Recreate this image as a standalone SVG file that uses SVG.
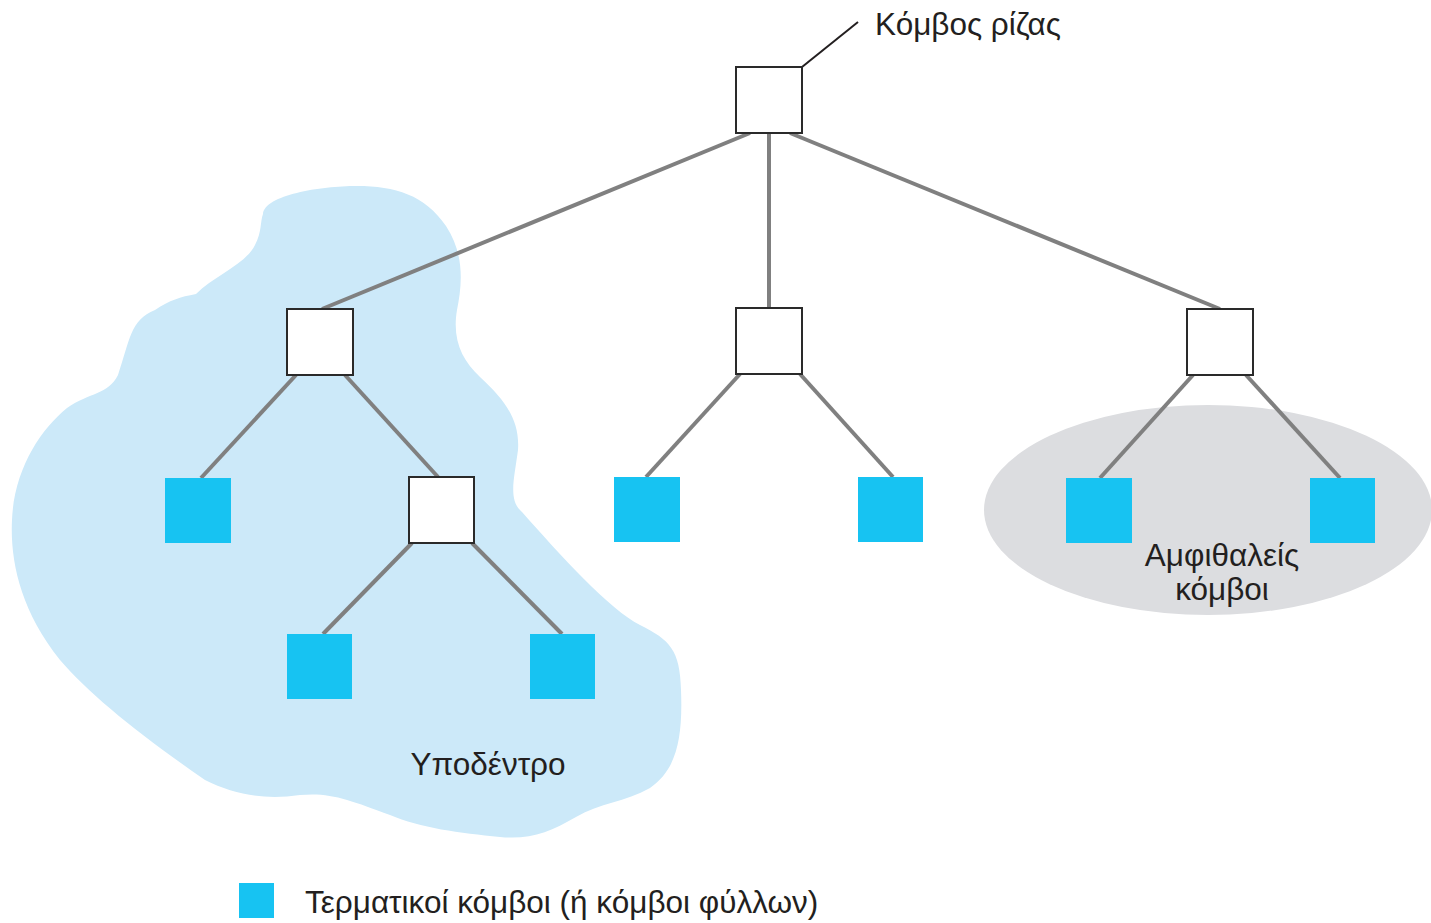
<svg xmlns="http://www.w3.org/2000/svg" width="1431" height="923" viewBox="0 0 1431 923">
<style>
.int{fill:#ffffff;stroke:#2a2a2a;stroke-width:2}
.leaf{fill:#17c3f2}
.edge{stroke:#808080;stroke-width:4;fill:none}
.lbl{font-family:"Liberation Sans",Arial,sans-serif;font-size:31.5px;fill:#231f20}
</style>
<rect width="1431" height="923" fill="#ffffff"/>
<g id="subtree-region">
<path fill="#cce9f9" d="M 263,214 C 265,195 320,186 357,186 C 395,186 425,195 446,226 C 465,255 462,285 457,310 C 452,340 462,360 480,377 C 505,400 520,420 518,450 C 514,480 508,500 522,512 C 560,555 610,610 640,625 C 670,640 680,650 681,690 C 683,740 676,770 650,788 C 625,802 600,803 576,817 C 550,832 530,840 500,837 C 460,833 420,828 390,815 C 350,800 330,792 300,795 C 265,800 235,795 205,780 C 140,735 90,695 60,660 C 20,610 10,560 12,520 C 14,470 40,430 67,408 C 90,392 108,395 118,375 C 130,340 130,320 155,310 C 170,300 180,297 196,294 C 215,275 245,265 255,245 C 262,232 260,222 263,214 Z"/>
</g>
<g id="sibling-region">
<ellipse cx="1208" cy="510" rx="224" ry="105" fill="#dcdde0"/>
</g>
<g id="connectors">
<line class="edge" x1="750" y1="133" x2="322" y2="309"/>
<line class="edge" x1="769" y1="133" x2="769" y2="308"/>
<line class="edge" x1="790" y1="133" x2="1220" y2="309"/>
<line class="edge" x1="296" y1="375" x2="201" y2="478"/>
<line class="edge" x1="345" y1="375" x2="438" y2="477"/>
<line class="edge" x1="412" y1="543" x2="323" y2="634"/>
<line class="edge" x1="472" y1="543" x2="562" y2="634"/>
<line class="edge" x1="740" y1="374" x2="646" y2="477"/>
<line class="edge" x1="800" y1="374" x2="893" y2="477"/>
<line class="edge" x1="1193" y1="375" x2="1100" y2="478"/>
<line class="edge" x1="1246" y1="375" x2="1340" y2="478"/>
<line x1="802" y1="67" x2="858" y2="22" stroke="#231f20" stroke-width="2"/>
</g>
<g id="root"><rect class="int" x="736" y="67" width="66" height="66"/></g>
<g id="n-left"><rect class="int" x="287" y="309" width="66" height="66"/></g>
<g id="n-mid"><rect class="int" x="736" y="308" width="66" height="66"/></g>
<g id="n-right"><rect class="int" x="1187" y="309" width="66" height="66"/></g>
<g id="n-sub"><rect class="int" x="409" y="477" width="65" height="66"/></g>
<g id="leaf1"><rect class="leaf" x="165" y="478" width="66" height="65"/></g>
<g id="leaf2"><rect class="leaf" x="287" y="634" width="65" height="65"/></g>
<g id="leaf3"><rect class="leaf" x="530" y="634" width="65" height="65"/></g>
<g id="leaf4"><rect class="leaf" x="614" y="477" width="66" height="65"/></g>
<g id="leaf5"><rect class="leaf" x="858" y="477" width="65" height="65"/></g>
<g id="leaf6"><rect class="leaf" x="1066" y="478" width="66" height="65"/></g>
<g id="leaf7"><rect class="leaf" x="1310" y="478" width="65" height="65"/></g>
<g id="labels">
<text class="lbl" x="875" y="35">Κόμβος ρίζας</text>
<text class="lbl" x="488" y="775" text-anchor="middle">Υποδέντρο</text>
<text class="lbl" x="1222" y="566" text-anchor="middle">Αμφιθαλείς</text>
<text class="lbl" x="1222" y="600" text-anchor="middle">κόμβοι</text>
</g>
<g id="legend">
<rect class="leaf" x="239" y="883" width="35" height="35"/>
<text class="lbl" x="305" y="913">Τερματικοί κόμβοι (ή κόμβοι φύλλων)</text>
</g>
</svg>
